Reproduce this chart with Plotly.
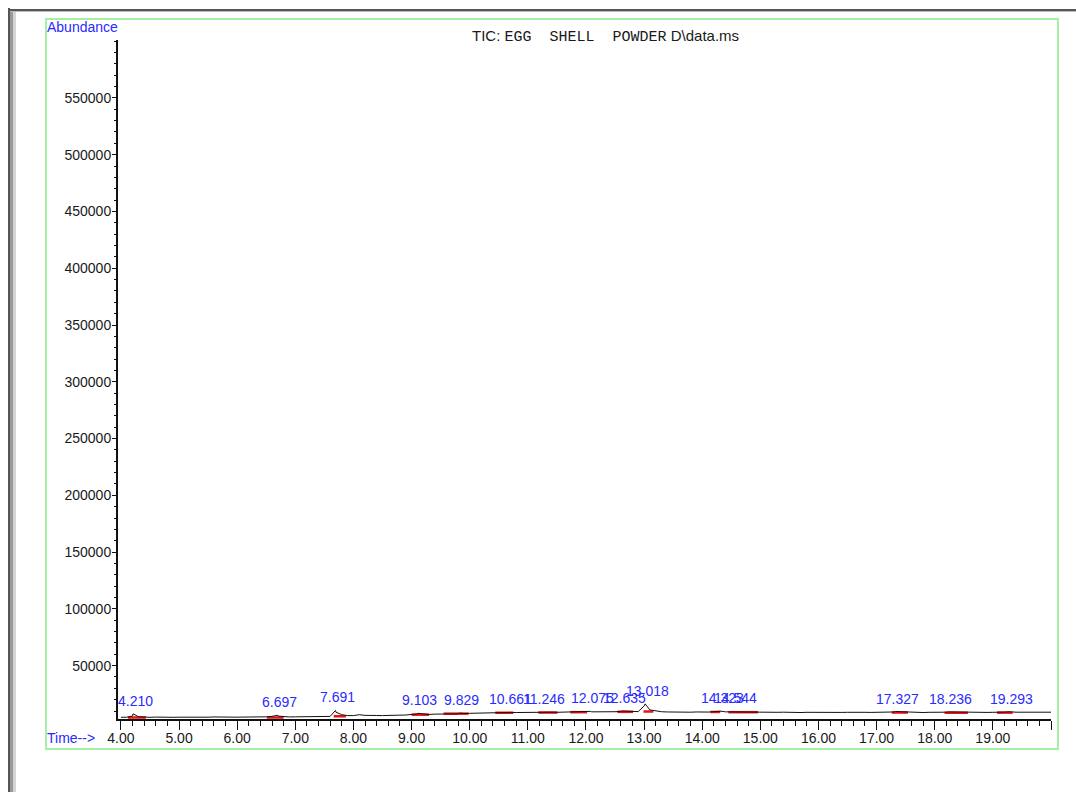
import plotly.graph_objects as go

# Total ion chromatogram, sampled every 0.1 min from 4.0 to 20.0 min
tic_start = 4.0
tic_step = 0.1
tic_abundance = [
    4500, 4600, 5600, 5000, 4600, 4500, 4700, 4500, 4600, 4500,
    4600, 4500, 4700, 4600, 4500, 4600, 4800, 4600, 4500, 4700,
    4600, 4700, 4600, 4800, 4700, 4900, 5300, 5600, 5000, 4800,
    4900, 5000, 4900, 5100, 5000, 5200, 5300, 9000, 6800, 6000,
    6000, 6800, 6200, 5900, 6100, 6000, 6300, 6200, 6400, 6500,
    6900, 7500, 7200, 7000, 7300, 7400, 7300, 7600, 7500, 7800,
    8000, 8200, 8300, 8600, 8500, 8700, 8900, 8800, 8700, 8800,
    8900, 8800, 9000, 9200, 9000, 8900, 9100, 9000, 9200, 9300,
    9400, 9300, 9200, 9300, 9500, 9400, 9700, 9900, 9600, 9500,
    14500, 11000, 10000, 9400, 9200, 9000, 9100, 8900, 9000, 9200,
    9000, 9100, 9400, 9600, 9300, 9200, 9400, 9100, 9000, 9200,
    8900, 9000, 8800, 8900, 9000, 8800, 8900, 8700, 8900, 8800,
    8900, 8800, 8900, 9000, 8800, 8900, 8700, 8800, 8900, 8800,
    8800, 8900, 8800, 9200, 9400, 9000, 8900, 8800, 8700, 8900,
    8800, 8700, 9000, 9200, 8900, 8800, 8700, 8800, 8600, 8800,
    8900, 8800, 9100, 9300, 9000, 8900, 8800, 8900, 8800, 9000,
    9000,
]

# Integrated peaks: apex retention time and apex abundance
peak_times = [4.210, 6.697, 7.691, 9.103, 9.829, 10.661, 11.246, 12.075,
              12.635, 13.018, 14.323, 14.544, 17.327, 18.236, 19.293]
peak_heights = [7600, 6300, 10500, 8000, 8200, 9300, 9400, 9700,
                10100, 16300, 9900, 9700, 9600, 9300, 9400]
peak_labels = ["4.210", "6.697", "7.691", "9.103", "9.829", "10.661", "11.246",
               "12.075", "12.635", "13.018", "14.323", "14.544", "17.327",
               "18.236", "19.293"]

# Integration baselines drawn under each peak
base_start = [4.12, 6.51, 7.66, 9.00, 9.55, 10.44, 11.18, 11.73, 12.54, 12.99,
              14.14, 14.45, 17.26, 18.17, 19.07]
base_end = [4.43, 6.80, 7.87, 9.30, 9.98, 10.75, 11.51, 12.02, 12.81, 13.16,
            14.31, 14.96, 17.54, 18.57, 19.34]
base_level = [4300, 4300, 5400, 6800, 7700, 8500, 8700, 9000, 9300, 9600,
              9200, 9000, 8700, 8500, 8600]

x_range = [3.95, 20.0]
x_major = list(range(4, 21))
x_text = ["%.2f" % v for v in range(4, 20)] + [""]
y_range = [3000, 601000]
y_major = list(range(50000, 550001, 50000))

# Merge the regular samples with the peak apexes into one time-ordered trace
samples = [(round(tic_start + i * tic_step, 3), v) for i, v in enumerate(tic_abundance)]
samples += list(zip(peak_times, peak_heights))
samples.sort(key=lambda p: p[0])
trace_t = [p[0] for p in samples]
trace_a = [p[1] for p in samples]

W, H = 1076, 792
ML, MR, MT, MB = 118, 25, 40, 73
PW, PH = W - ML - MR, H - MT - MB


def px(x):
    return (x - ML) / PW


def py(y):
    return (H - MB - y) / PH


fig = go.Figure()

for s, e, lv in zip(base_start, base_end, base_level):
    fig.add_trace(go.Scatter(x=[s, e], y=[lv, lv], mode="lines",
                             line=dict(color="#ee1111", width=2.5),
                             hoverinfo="skip", showlegend=False))

fig.add_trace(go.Scatter(x=trace_t, y=trace_a, mode="lines",
                         line=dict(color="#111111", width=1),
                         showlegend=False))

blue = "#2a2aff"
for t, h, lab in zip(peak_times, peak_heights, peak_labels):
    fig.add_annotation(x=t, y=h, text=lab, showarrow=False, xanchor="center",
                       yanchor="bottom", yshift=3, xshift=2,
                       font=dict(family="Liberation Sans", size=14, color=blue))

fig.add_annotation(xref="paper", yref="paper", x=px(45), y=py(27), text="Abundance",
                   showarrow=False, xanchor="left", yanchor="middle",
                   font=dict(family="Liberation Sans", size=14, color=blue))
fig.add_annotation(xref="paper", yref="paper", x=px(45), y=py(738), text="Time-->",
                   showarrow=False, xanchor="left", yanchor="middle",
                   font=dict(family="Liberation Sans", size=14, color=blue))

mono = "EGG\u00a0\u00a0SHELL\u00a0\u00a0POWDER"
title = ("TIC:\u00a0<span style=\"font-family:'Liberation Mono'\">" + mono +
         "</span>\u00a0D\\data.ms")
fig.add_annotation(xref="paper", yref="paper", x=px(605), y=py(36), text=title,
                   showarrow=False, xanchor="center", yanchor="middle",
                   font=dict(family="Liberation Sans", size=15, color="#1a1a1a"))

shapes = [
    # outer window edges
    dict(type="rect", xref="paper", yref="paper", x0=px(8), x1=px(10), y0=py(792), y1=py(8),
         fillcolor="#555555", line=dict(width=0)),
    dict(type="rect", xref="paper", yref="paper", x0=px(10), x1=px(13), y0=py(792), y1=py(10),
         fillcolor="#999999", line=dict(width=0)),
    dict(type="rect", xref="paper", yref="paper", x0=px(13), x1=px(16), y0=py(792), y1=py(11),
         fillcolor="#d4d4d4", line=dict(width=0)),
    dict(type="rect", xref="paper", yref="paper", x0=px(8), x1=px(1076), y0=py(11), y1=py(9),
         fillcolor="#555555", line=dict(width=0)),
    dict(type="rect", xref="paper", yref="paper", x0=px(10), x1=px(1076), y0=py(12), y1=py(11),
         fillcolor="#bbbbbb", line=dict(width=0)),
    # green chart frame
    dict(type="rect", xref="paper", yref="paper", x0=px(46), x1=px(1058), y0=py(749), y1=py(19),
         line=dict(color="#a4f0a4", width=2), fillcolor="rgba(0,0,0,0)"),
]
fig.update_layout(shapes=shapes)

fig.update_xaxes(range=x_range, showgrid=False, zeroline=False,
                 showline=True, linecolor="#111111", linewidth=2,
                 ticks="outside", tickvals=x_major, ticktext=x_text,
                 ticklen=9, tickwidth=1, tickcolor="#111111", ticklabelstandoff=-4,
                 tickfont=dict(family="Liberation Sans", size=14, color="#1a1a1a"),
                 minor=dict(ticks="outside", dtick=0.2, tick0=4, ticklen=5,
                            tickcolor="#111111", tickwidth=1))
fig.update_yaxes(range=y_range, showgrid=False, zeroline=False,
                 showline=True, linecolor="#111111", linewidth=2,
                 ticks="outside", tickvals=y_major, ticklen=4, tickwidth=1,
                 tickcolor="#111111", tickformat="d", ticklabelstandoff=-2,
                 tickfont=dict(family="Liberation Sans", size=14, color="#1a1a1a"),
                 minor=dict(ticks="outside", dtick=10000, tick0=0, ticklen=2,
                            tickcolor="#111111", tickwidth=1))

fig.update_layout(width=W, height=H, margin=dict(l=ML, r=MR, t=MT, b=MB),
                  plot_bgcolor="white", paper_bgcolor="white")

fig.write_html("out.html")
